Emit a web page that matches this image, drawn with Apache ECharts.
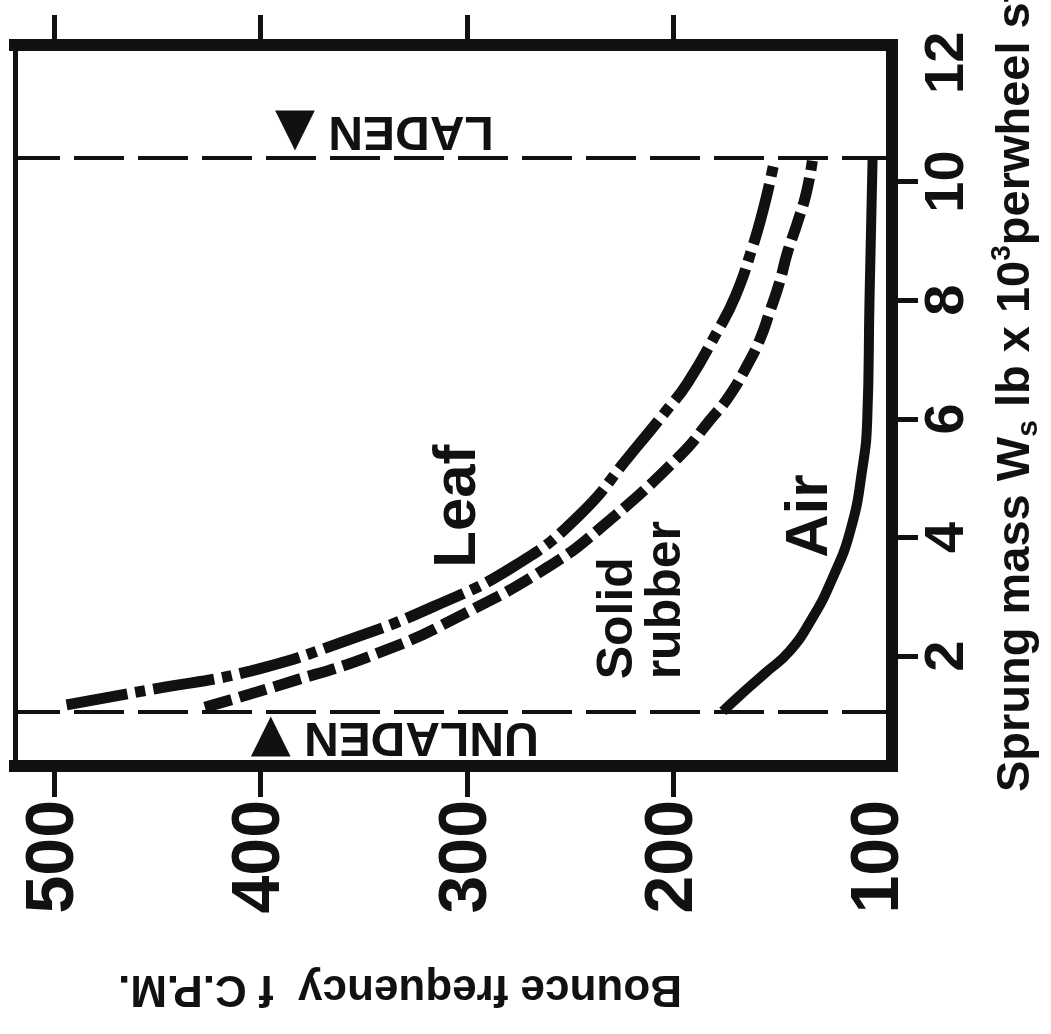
<!DOCTYPE html>
<html lang="en">

<head>
  <meta charset="UTF-8">
  <title>Bounce frequency against sprung mass</title>
  <style>
    html,
    body {
      margin: 0;
      padding: 0;
      background: #fff;
    }

    #chart {
      width: 1051px;
      height: 1034px;
    }
  </style>
</head>

<body>
  <div id="chart"></div>
</body>

<script src="https://cdn.jsdelivr.net/npm/echarts@6/dist/echarts.min.js"></script>
<script>
  // ticks and labels
  var freqTicks = [200, 300, 400, 500]
  var freqLabels = [100, 200, 300, 400, 500]
  var massTicks = [2, 4, 6, 8, 10]
  var massLabels = [2, 4, 6, 8, 10, 12]

  // unladen / laden sprung mass (lb x 10^3)
  var unladenMass = 1.07
  var ladenMass = 10.4

  // curves, frequency in c.p.m., mass in lb x 10^3
  var leafFreq = [494, 453, 405, 357, 316, 277, 246, 220, 204, 193, 179, 170, 162, 156, 151]
  var leafMass = [1.18, 1.44, 1.75, 2.28, 2.84, 3.52, 4.36, 5.43, 6.11, 6.61, 7.45, 8.06, 8.85, 9.58, 10.35]

  var rubberFreq = [427, 392, 341, 300, 260, 236, 197, 182, 173, 164.5, 158, 153.4, 148.5, 144.7, 139.8, 135.5, 132.6]
  var rubberMass = [1.14, 1.5, 2.08, 2.74, 3.52, 4.14, 5.37, 5.99, 6.38, 6.88, 7.34, 7.79, 8.3, 8.8, 9.31, 9.81, 10.35]

  var airFreq = [176, 168, 155, 144, 133, 123, 114, 108.4, 106, 104.9, 103.4]
  var airMass = [1.07, 1.33, 1.73, 2.07, 2.62, 3.3, 4.14, 5.15, 5.99, 8.01, 10.4]

  var INK = '#111'
  var FONT = "'Liberation Sans', Arial, sans-serif"

  function pairs(xs, ys) {
    return xs.map(function (x, i) {
      return [x, ys[i]]
    })
  }

  var myChart = echarts.init(document.getElementById('chart'))

  var freqAxis = {
    type: 'value',
    inverse: true,
    min: 94,
    max: 519,
    splitLine: { show: false },
    axisLine: { show: true, onZero: false, lineStyle: { color: INK, width: 12, cap: 'square' } },
    axisTick: { show: true, customValues: freqTicks, length: 31, lineStyle: { color: INK, width: 5 } },
  }

  // big triangle pointing at the load line
  var arrowRich = {
    t: { fontFamily: "'DejaVu Sans', sans-serif", fontSize: 52, color: INK },
  }

  var option = {
    animation: false,
    backgroundColor: '#fff',
    grid: {
      left: 15,
      right: 159,
      top: 45,
      bottom: 268,
      outerBoundsMode: 'none',
    },
    xAxis: [
      Object.assign({}, freqAxis, {
        position: 'bottom',
        axisLabel: {
          customValues: freqLabels,
          rotate: 90,
          margin: 34,
          color: INK,
          fontFamily: FONT,
          fontWeight: 'bold',
          fontSize: 68,
        },
      }),
      Object.assign({}, freqAxis, {
        position: 'top',
        axisTick: { show: true, customValues: freqTicks, length: 30, lineStyle: { color: INK, width: 5 } },
        axisLabel: { show: false },
      }),
    ],
    yAxis: [
      {
        type: 'value',
        position: 'right',
        min: 0.15,
        max: 12.3,
        splitLine: { show: false },
        axisLine: { show: true, onZero: false, lineStyle: { color: INK, width: 12, cap: 'square' } },
        axisTick: { show: true, customValues: massTicks, length: 26, lineStyle: { color: INK, width: 5 } },
        axisLabel: {
          customValues: massLabels,
          rotate: 90,
          margin: 28,
          color: INK,
          fontFamily: FONT,
          fontWeight: 'bold',
          fontSize: 56,
        },
      },
      {
        type: 'value',
        position: 'left',
        min: 0.15,
        max: 12.3,
        splitLine: { show: false },
        axisLine: { show: true, onZero: false, lineStyle: { color: INK, width: 5 } },
        axisTick: { show: false },
        axisLabel: { show: false },
      },
    ],
    graphic: [
      {
        type: 'text',
        x: 400,
        y: 988,
        rotation: Math.PI,
        style: {
          text: 'Bounce frequency  f C.P.M.',
          fill: INK,
          fontFamily: FONT,
          fontWeight: 'bold',
          fontSize: 44,
          align: 'center',
          verticalAlign: 'middle',
        },
      },
      {
        type: 'text',
        x: 1016,
        y: 792,
        rotation: Math.PI / 2,
        style: {
          text: '{a|Sprung mass W}{sub|s}{a| lb x 10}{sup|3}{a|perwheel station}',
          fill: INK,
          align: 'left',
          verticalAlign: 'middle',
          rich: {
            a: { fontFamily: FONT, fontWeight: 'bold', fontSize: 47, lineHeight: 56, fill: INK },
            sub: { fontFamily: FONT, fontWeight: 'bold', fontSize: 30, lineHeight: 30, verticalAlign: 'bottom', fill: INK },
            sup: { fontFamily: FONT, fontWeight: 'bold', fontSize: 28, lineHeight: 28, verticalAlign: 'top', fill: INK },
          },
        },
      },
    ],
    series: [
      {
        name: 'Leaf',
        type: 'line',
        data: pairs(leafFreq, leafMass),
        showSymbol: false,
        smooth: 0.5,
        silent: true,
        lineStyle: { color: INK, width: 11, type: [62, 8, 10, 8], cap: 'butt' },
      },
      {
        name: 'Solid rubber',
        type: 'line',
        data: pairs(rubberFreq, rubberMass),
        showSymbol: false,
        smooth: 0.5,
        silent: true,
        lineStyle: { color: INK, width: 11, type: [28, 8], cap: 'butt' },
      },
      {
        name: 'Air',
        type: 'line',
        data: pairs(airFreq, airMass),
        showSymbol: false,
        smooth: 0.5,
        silent: true,
        lineStyle: { color: INK, width: 10 },
        markLine: {
          silent: true,
          symbol: 'none',
          label: { show: false },
          lineStyle: { color: INK, width: 4, type: [50, 14] },
          data: [{ yAxis: unladenMass }, { yAxis: ladenMass }],
        },
      },
      // text written on the plot
      {
        type: 'scatter',
        symbolSize: 0,
        silent: true,
        itemStyle: { opacity: 1 },
        label: {
          show: true,
          position: 'inside',
          formatter: '{b}',
          color: INK,
          fontFamily: FONT,
          fontWeight: 'bold',
        },
        data: [
          { name: 'Leaf', value: [304, 4.53], label: { rotate: 90, fontSize: 60 } },
          { name: 'Solid\nrubber', value: [215, 1.61], label: { rotate: 90, fontSize: 50, lineHeight: 48, align: 'left' } },
          { name: 'Air', value: [133.5, 4.36], label: { rotate: 90, fontSize: 60 } },
          {
            name: 'UNLADEN',
            value: [335, 0.65],
            label: { rotate: 180, fontSize: 48, formatter: '{b} {t|▼}', rich: arrowRich },
          },
          {
            name: 'LADEN',
            value: [340, 10.86],
            label: { rotate: 180, fontSize: 48, formatter: '{b} {t|▲}', rich: arrowRich },
          },
        ],
      },
    ],
  }

  myChart.setOption(option)
</script>

</html>
